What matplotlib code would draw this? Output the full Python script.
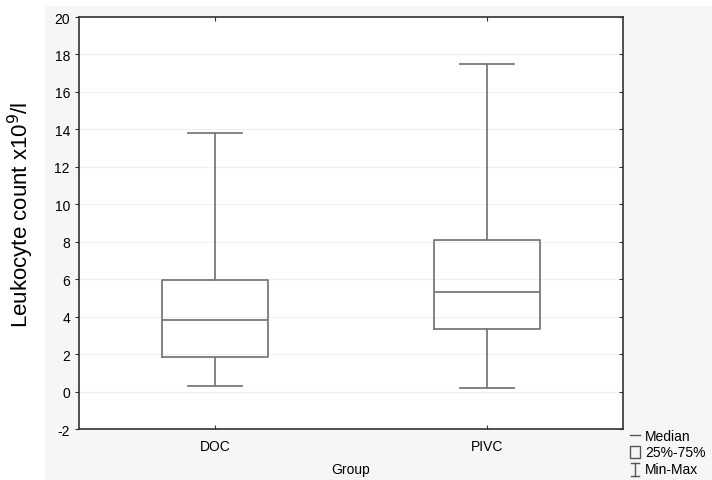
import matplotlib.pyplot as plt
from matplotlib.patches import Rectangle
from matplotlib.lines import Line2D

plt.rcParams['font.family'] = ['Liberation Sans', 'DejaVu Sans']

groups = ['DOC', 'PIVC']
mins = [0.28, 0.17]
q1s = [1.83, 3.32]
medians = [3.82, 5.33]
q3s = [5.95, 8.1]
maxs = [13.8, 17.5]
yticks = list(range(-2, 21, 2))

fig = plt.figure(figsize=(7.12, 4.81), dpi=100)
fig.patches.append(Rectangle((45 / 712, 0), 1, 1 - 7 / 481, transform=fig.transFigure,
                             facecolor='#f6f6f6', edgecolor='none', zorder=-1))
ax = fig.add_axes([79 / 712, 1 - 430 / 481, (623 - 79) / 712, (430 - 18) / 481])

stats = []
for i, g in enumerate(groups):
    stats.append(dict(label=g, whislo=mins[i], q1=q1s[i], med=medians[i],
                      q3=q3s[i], whishi=maxs[i], fliers=[]))

lc = '#7a7a7a'
ax.bxp(stats, positions=range(len(groups)), widths=0.39, showfliers=False,
       boxprops=dict(color=lc, linewidth=1.3),
       medianprops=dict(color=lc, linewidth=1.3),
       whiskerprops=dict(color=lc, linewidth=1.3),
       capprops=dict(color=lc, linewidth=1.3), capwidths=0.2)

ax.set_xlim(-0.5, 1.5)
ax.set_ylim(-2, 20)
ax.set_yticks(yticks)
ax.set_yticklabels([str(t) for t in yticks])
for t in yticks:
    ax.axhline(t, color='#f0f0f0', linewidth=0.8, zorder=0)

for s in ax.spines.values():
    s.set_color('#333333')
    s.set_linewidth(1.2)
ax.tick_params(axis='y', which='both', direction='out', left=True, right=True,
               labelsize=10, color='#333333', length=3)
ax.tick_params(axis='x', direction='in', top=True, bottom=True, labelsize=10,
               color='#333333', length=3, pad=7)
# right-side ticks point inward
for tl in ax.yaxis.get_ticklines()[1::2]:
    tl.set_marker(0)

ax.set_ylabel('Leukocyte count x10$^9$/l', fontsize=16, va='center')
ax.yaxis.set_label_coords(-58 / 544, 215 / 412)
ax.set_xlabel('Group', fontsize=10, va='center')
ax.xaxis.set_label_coords(0.5, -40 / 412)

# legend at bottom right
fig.text(645 / 712, 1 - 437 / 481, 'Median', fontsize=10, va='center')
fig.text(645 / 712, 1 - 453 / 481, '25%-75%', fontsize=10, va='center')
fig.text(645 / 712, 1 - 470 / 481, 'Min-Max', fontsize=10, va='center')
fig.add_artist(Line2D([630 / 712, 640 / 712], [1 - 436 / 481] * 2, color='#555555', lw=1))
fig.patches.append(Rectangle((630 / 712, 1 - 459 / 481), 10 / 712, 12 / 481, transform=fig.transFigure,
                             facecolor='none', edgecolor='#555555', lw=1))
fig.add_artist(Line2D([635 / 712] * 2, [1 - 477 / 481, 1 - 464 / 481], color='#555555', lw=1))
fig.add_artist(Line2D([631 / 712, 639 / 712], [1 - 477 / 481] * 2, color='#555555', lw=1))
fig.add_artist(Line2D([631 / 712, 639 / 712], [1 - 464 / 481] * 2, color='#555555', lw=1))

fig.savefig('out.png', dpi=100)
